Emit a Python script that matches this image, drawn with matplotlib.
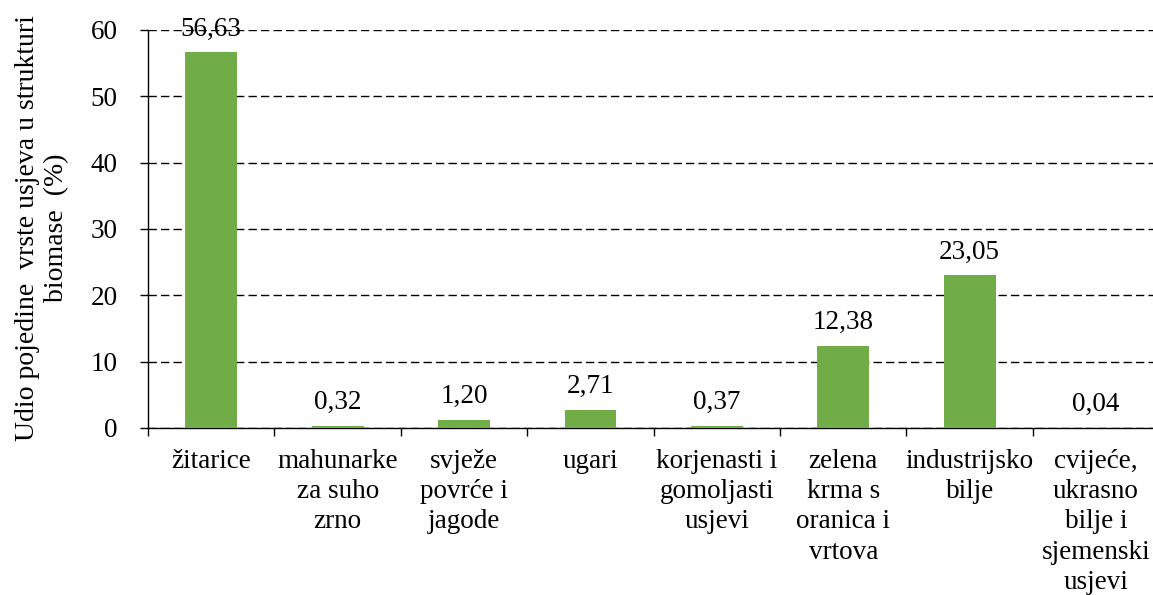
import matplotlib.pyplot as plt
import numpy as np

plt.rcParams['font.family'] = ['Liberation Serif', 'DejaVu Serif']

categories = [
    "žitarice",
    "mahunarke\nza suho\nzrno",
    "svježe\npovrće i\njagode",
    "ugari",
    "korjenasti i\ngomoljasti\nusjevi",
    "zelena\nkrma s\noranica i\nvrtova",
    "industrijsko\nbilje",
    "cvijeće,\nukrasno\nbilje i\nsjemenski\nusjevi",
]
shares = [56.63, 0.32, 1.20, 2.71, 0.37, 12.38, 23.05, 0.04]
y_ticks = [0, 10, 20, 30, 40, 50, 60]

FS = 19.5

fig = plt.figure(figsize=(11.53, 5.95), dpi=100)
ax = fig.add_axes([0.1284, 0.2807, 0.877, 0.6689])

x = np.arange(len(categories))
bars = ax.bar(x, shares, width=0.41, color="#70AD47", zorder=3)

for xi, v in zip(x, shares):
    ax.annotate(f"{v:.2f}".replace(".", ","), (xi, v), xytext=(0, 12),
                textcoords="offset points", ha="center", va="baseline",
                fontsize=FS, zorder=4)

ax.set_xlim(-0.5, len(categories) - 0.5)
ax.set_ylim(0, 60)
ax.set_yticks(y_ticks)
ax.tick_params(axis="y", labelsize=FS, length=6, width=1, direction="out", pad=16)

# category ticks sit between the bars, labels at the bar centres
ax.set_xticks(np.arange(len(categories) + 1) - 0.5)
ax.set_xticklabels([])
ax.set_xticks(x, minor=True)
ax.set_xticklabels(categories, minor=True, fontsize=FS, linespacing=1.28)
ax.tick_params(axis="x", which="major", length=6, width=1, direction="out")
ax.tick_params(axis="x", which="minor", length=0, pad=15)

ax.yaxis.grid(True, linestyle=(0, (6, 3)), color="black", linewidth=1, zorder=0)
ax.set_axisbelow(True)
for side in ["top", "right"]:
    ax.spines[side].set_visible(False)
ax.spines["left"].set_linewidth(1)
ax.spines["bottom"].set_linewidth(1)

fig.text(42 / 1153, 1 - 228 / 595,
         "Udio pojedine  vrste usjeva u strukturi\nbiomase  (%)",
         rotation=90, ha="center", va="center", multialignment="center",
         fontsize=FS + 0.5, linespacing=1.22)

fig.savefig("out.png", dpi=100)
